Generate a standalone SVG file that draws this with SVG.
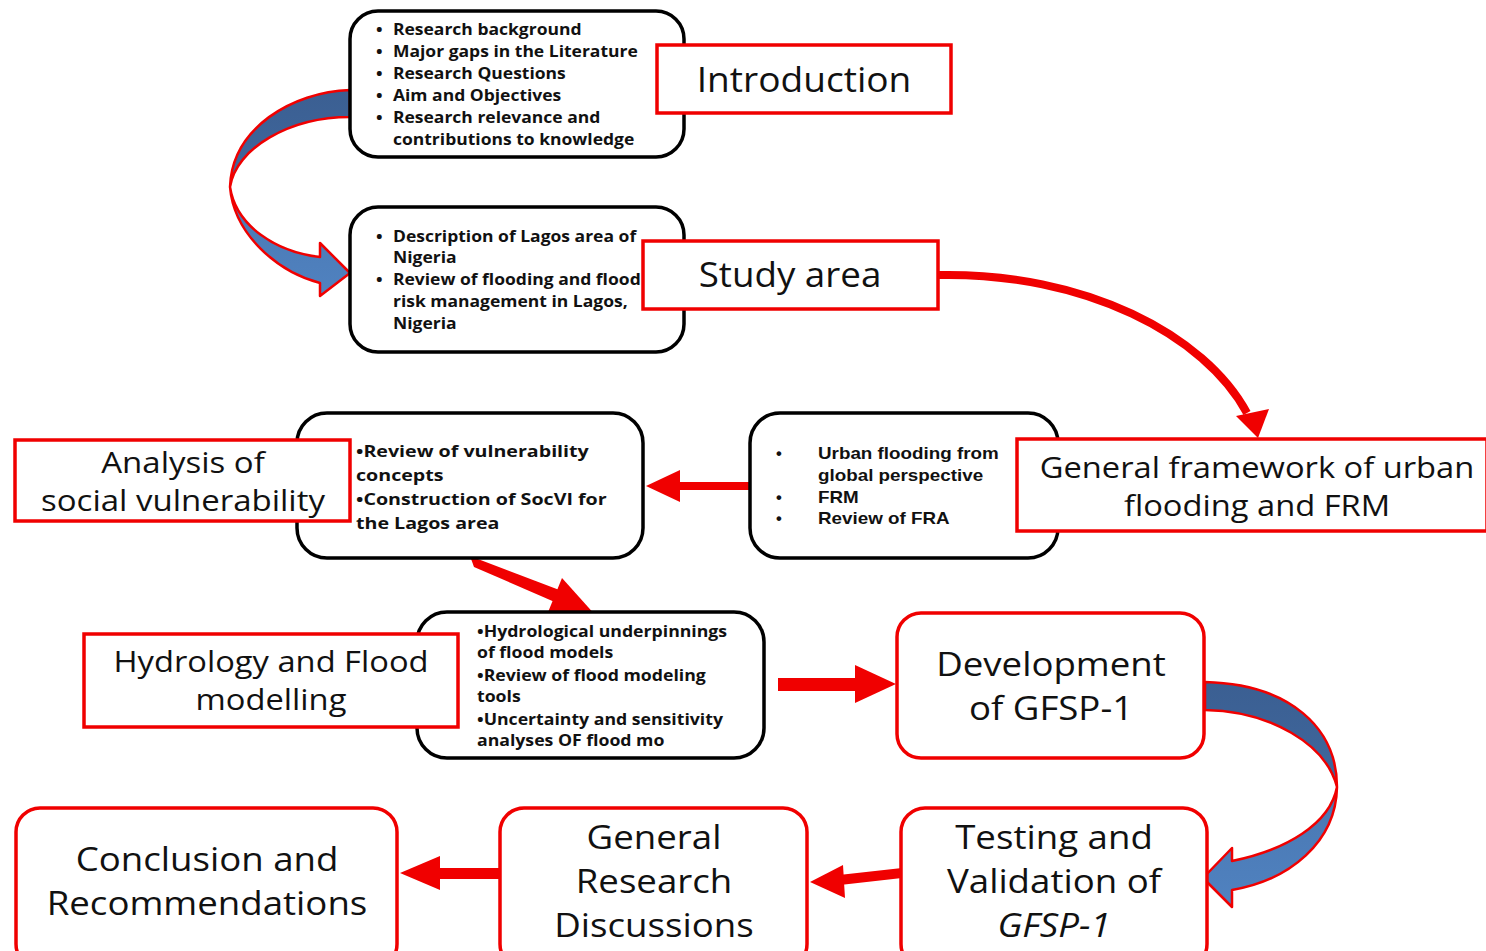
<svg xmlns="http://www.w3.org/2000/svg" width="1486" height="951" viewBox="0 0 1486 951">
<defs>
<linearGradient id="blueA" x1="0" y1="0" x2="0" y2="1">
<stop offset="0" stop-color="#3b5f92"/>
<stop offset="0.45" stop-color="#3f679d"/>
<stop offset="0.55" stop-color="#4a79b4"/>
<stop offset="1" stop-color="#5082c0"/>
</linearGradient>
<style>
.bbox{fill:#ffffff;stroke:#000000;stroke-width:3.5}
.rbox{fill:#ffffff;stroke:#f00000;stroke-width:3.5}
.lbl{font-family:"Open Sans","Liberation Sans",sans-serif;fill:#111111;text-anchor:middle}
.bul{font-family:"Open Sans","Liberation Sans",sans-serif;font-weight:bold;fill:#111111;font-size:15.5px}
.bul2{font-family:"Open Sans","Liberation Sans",sans-serif;font-weight:bold;fill:#111111;font-size:16.5px}
.frm{font-family:"Liberation Sans",Arial,sans-serif;font-weight:bold;fill:#111111;font-size:16.5px}
.red{fill:#f00000}
.redline{fill:none;stroke:#f00000}
.blue{fill:url(#blueA);stroke:#f00000;stroke-width:2.5;stroke-linejoin:round}
</style>
</defs>
<rect width="1486" height="951" fill="#ffffff"/>

<g id="connectors">
<path class="blue" d="M 350 90 C 292 92 232 128 230 187 C 234 235 278 272 320 283 L 320 296 L 350 273 L 320 243 L 320 257 C 276 252 236 226 230 187 C 236 148 290 117 350 117 Z"/>
<path class="blue" d="M 1205 682 C 1290 684 1337 728 1337 787 C 1336 842 1290 880 1232 890 L 1232 907 L 1203 878 L 1232 848 L 1232 861 C 1286 850 1330 824 1337 787 C 1326 744 1270 711 1205 710 Z"/>
<path class="redline" stroke-width="8" d="M 938 275 C 1085 272 1205 335 1247 413"/>
<polygon class="red" points="1258,438 1236,416 1269,409"/>
<rect class="red" x="676" y="482" width="76" height="8"/>
<polygon class="red" points="646,486 680,470 680,502"/>
<polygon class="red" points="470,556 474,567 557,603 562,591"/>
<polygon class="red" points="544,622 562,578 597,617"/>
<rect class="red" x="778" y="678" width="80" height="13"/>
<polygon class="red" points="896,684 855,665 855,703"/>
<polygon class="red" points="902,868 902,878 840,885 839,875"/>
<polygon class="red" points="810,882 843,865 845,898"/>
<rect class="red" x="436" y="868" width="66" height="11"/>
<polygon class="red" points="400,873 440,856 440,890"/>
</g>

<g id="n-intro-bullets">
<rect class="bbox" x="350" y="11" width="334" height="146" rx="28"/>
<g transform="translate(376,0) scale(1.13,1)">
<text class="bul" x="0" y="35">•</text><text class="bul" x="15" y="35">Research background</text>
<text class="bul" x="0" y="57">•</text><text class="bul" x="15" y="57">Major gaps in the Literature</text>
<text class="bul" x="0" y="79">•</text><text class="bul" x="15" y="79">Research Questions</text>
<text class="bul" x="0" y="101">•</text><text class="bul" x="15" y="101">Aim and Objectives</text>
<text class="bul" x="0" y="123">•</text><text class="bul" x="15" y="123">Research relevance and</text>
<text class="bul" x="15" y="145">contributions to knowledge</text>
</g>
</g>
<g id="n-intro">
<rect class="rbox" x="657" y="45" width="294" height="68"/>
<text class="lbl" transform="translate(804,92) scale(1.06,1)" x="0" y="0" font-size="35">Introduction</text>
</g>

<g id="n-study-bullets">
<rect class="bbox" x="350" y="207" width="334" height="145" rx="28"/>
<g transform="translate(376,0) scale(1.13,1)">
<text class="bul" x="0" y="242">•</text><text class="bul" x="15" y="242">Description of Lagos area of</text>
<text class="bul" x="15" y="263">Nigeria</text>
<text class="bul" x="0" y="285">•</text><text class="bul" x="15" y="285">Review of flooding and flood</text>
<text class="bul" x="15" y="307">risk management in Lagos,</text>
<text class="bul" x="15" y="329">Nigeria</text>
</g>
</g>
<g id="n-study">
<rect class="rbox" x="643" y="241" width="295" height="68"/>
<text class="lbl" transform="translate(790,287) scale(1.05,1)" x="0" y="0" font-size="35">Study area</text>
</g>

<g id="n-socvi-bullets">
<rect class="bbox" x="297" y="413" width="346" height="145" rx="30"/>
<g transform="translate(356,0) scale(1.19,1)">
<text class="bul2" x="0" y="457">•Review of vulnerability</text>
<text class="bul2" x="0" y="481">concepts</text>
<text class="bul2" x="0" y="505">•Construction of SocVI for</text>
<text class="bul2" x="0" y="529">the Lagos area</text>
</g>
</g>
<g id="n-social">
<rect class="rbox" x="15" y="440" width="335" height="81"/>
<text class="lbl" transform="translate(183,473) scale(1.1,1)" x="0" y="0" font-size="30">Analysis of</text>
<text class="lbl" transform="translate(183,511) scale(1.1,1)" x="0" y="0" font-size="30">social vulnerability</text>
</g>

<g id="n-frm-bullets">
<rect class="bbox" x="750" y="413" width="308" height="145" rx="30"/>
<text class="frm" x="776" y="459">•</text><text class="frm" x="776" y="503">•</text><text class="frm" x="776" y="524">•</text>
<g transform="translate(818,0) scale(1.14,1)">
<text class="frm" x="0" y="459">Urban flooding from</text>
<text class="frm" x="0" y="481">global perspective</text>
<text class="frm" x="0" y="503">FRM</text>
<text class="frm" x="0" y="524">Review of FRA</text>
</g>
</g>
<g id="n-framework">
<rect class="rbox" x="1017" y="439" width="470" height="92"/>
<text class="lbl" transform="translate(1257,478) scale(1.09,1)" x="0" y="0" font-size="30">General framework of urban</text>
<text class="lbl" transform="translate(1257,516) scale(1.09,1)" x="0" y="0" font-size="30">flooding and FRM</text>
</g>

<g id="n-hydro-bullets">
<rect class="bbox" x="417" y="612" width="347" height="146" rx="30"/>
<g transform="translate(477,0) scale(1.14,1)">
<text class="bul" x="0" y="637">•Hydrological underpinnings</text>
<text class="bul" x="0" y="658">of flood models</text>
<text class="bul" x="0" y="681">•Review of flood modeling</text>
<text class="bul" x="0" y="702">tools</text>
<text class="bul" x="0" y="725">•Uncertainty and sensitivity</text>
<text class="bul" x="0" y="746">analyses OF flood mo</text>
</g>
</g>
<g id="n-hydro">
<rect class="rbox" x="84" y="634" width="374" height="93"/>
<text class="lbl" transform="translate(271,672) scale(1.09,1)" x="0" y="0" font-size="30">Hydrology and Flood</text>
<text class="lbl" transform="translate(271,710) scale(1.09,1)" x="0" y="0" font-size="30">modelling</text>
</g>

<g id="n-gfsp">
<rect class="rbox" x="897" y="613" width="307" height="145" rx="24"/>
<text class="lbl" transform="translate(1051,676) scale(1.11,1)" x="0" y="0" font-size="33">Development</text>
<text class="lbl" transform="translate(1051,720) scale(1.11,1)" x="0" y="0" font-size="33">of GFSP-1</text>
</g>

<g id="n-conclusion">
<rect class="rbox" x="16" y="808" width="381" height="160" rx="24"/>
<text class="lbl" transform="translate(207,871) scale(1.11,1)" x="0" y="0" font-size="33">Conclusion and</text>
<text class="lbl" transform="translate(207,915) scale(1.11,1)" x="0" y="0" font-size="33">Recommendations</text>
</g>

<g id="n-discussions">
<rect class="rbox" x="500" y="808" width="307" height="160" rx="24"/>
<text class="lbl" transform="translate(654,849) scale(1.11,1)" x="0" y="0" font-size="33">General</text>
<text class="lbl" transform="translate(654,893) scale(1.11,1)" x="0" y="0" font-size="33">Research</text>
<text class="lbl" transform="translate(654,937) scale(1.11,1)" x="0" y="0" font-size="33">Discussions</text>
</g>

<g id="n-testing">
<rect class="rbox" x="901" y="808" width="306" height="160" rx="24"/>
<text class="lbl" transform="translate(1054,849) scale(1.11,1)" x="0" y="0" font-size="33">Testing and</text>
<text class="lbl" transform="translate(1054,893) scale(1.11,1)" x="0" y="0" font-size="33">Validation of</text>
<text class="lbl" transform="translate(1054,937) scale(1.11,1)" x="0" y="0" font-size="33" font-style="italic">GFSP-1</text>
</g>
</svg>
